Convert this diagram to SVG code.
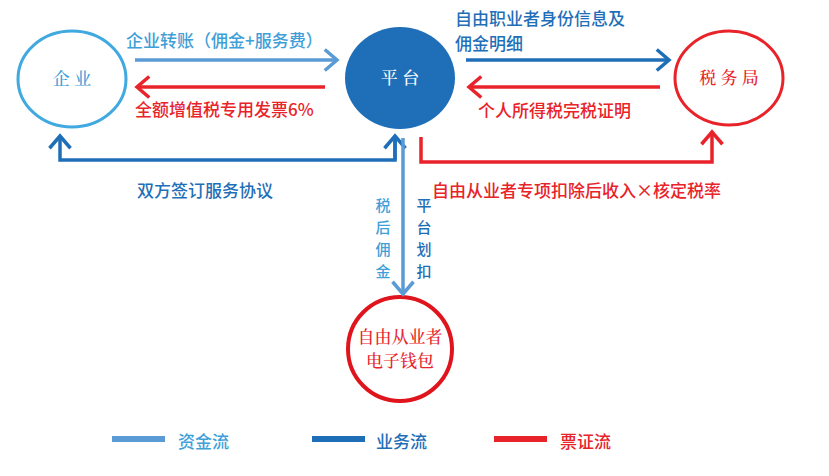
<svg xmlns="http://www.w3.org/2000/svg" width="829" height="476" viewBox="0 0 829 476">
<defs>
<style>
text{font-family:"Noto Sans CJK SC","Noto Sans",sans-serif;font-size:17px;font-weight:500}
.v{font-size:15px}
.lb{stroke:#5b9bd5;fill:none;stroke-width:3.5}
.db{stroke:#1f6fb8;fill:none;stroke-width:3.5}
.rd{stroke:#e8232a;fill:none;stroke-width:3.5}
.tlb{fill:#3fa0d8}.tdb{fill:#1f6fb8}.trd{fill:#e8232a}
.serif{font-family:"Noto Serif CJK SC","Noto Sans CJK SC",serif}
</style>
<marker id="alb" markerWidth="5" markerHeight="7" refX="4" refY="3.5" orient="auto" markerUnits="strokeWidth"><path d="M0.5,0.5 L4,3.5 L0.5,6.5" fill="none" stroke="#5b9bd5" stroke-width="1"/></marker>
<marker id="adb" markerWidth="5" markerHeight="7" refX="4" refY="3.5" orient="auto" markerUnits="strokeWidth"><path d="M0.5,0.5 L4,3.5 L0.5,6.5" fill="none" stroke="#1f6fb8" stroke-width="1"/></marker>
<marker id="ard" markerWidth="5" markerHeight="7" refX="4" refY="3.5" orient="auto" markerUnits="strokeWidth"><path d="M0.5,0.5 L4,3.5 L0.5,6.5" fill="none" stroke="#e8232a" stroke-width="1"/></marker>
</defs>
<rect width="829" height="476" fill="#fff"/>
<g id="qiye"><ellipse cx="72" cy="79" rx="54" ry="48" fill="none" stroke="#3fa9e0" stroke-width="3"/><text x="72" y="85" text-anchor="middle" class="tlb serif" font-size="16">企 业</text></g>
<g id="pingtai"><ellipse cx="400" cy="78" rx="55" ry="51" fill="#1f6fb8"/><text x="400" y="84" text-anchor="middle" fill="#fff" class="serif" font-size="16">平 台</text></g>
<g id="shuiwuju"><ellipse cx="729" cy="78" rx="54" ry="47" fill="none" stroke="#e8232a" stroke-width="3"/><text x="729" y="84" text-anchor="middle" class="trd serif" font-size="17">税 务 局</text></g>
<g id="wallet"><ellipse cx="400" cy="349" rx="52" ry="52" fill="none" stroke="#e0141c" stroke-width="4"/><text x="400" y="343" text-anchor="middle" class="trd serif" font-size="17" font-weight="700">自由从业者</text><text x="400" y="367" text-anchor="middle" class="trd serif" font-size="17" font-weight="700">电子钱包</text></g>
<g id="connectors">
<path class="lb" d="M135,60 H337" marker-end="url(#alb)"/>
<path class="rd" d="M325,87 H137" marker-end="url(#ard)"/>
<path class="db" d="M466,60 H669" marker-end="url(#adb)"/>
<path class="rd" d="M660,87 H469" marker-end="url(#ard)"/>
<path class="db" d="M395,136 V160 H60 V136" marker-end="url(#adb)"/>
<path class="db" d="M395,160 V136" marker-end="url(#adb)"/>
<path class="rd" d="M421,137 V162 H712 V132" marker-end="url(#ard)"/>
<path class="lb" d="M403,138 V294" marker-end="url(#alb)"/>
</g>
<g id="labels">
<text x="126" y="47" class="tlb">企业转账（佣金+服务费）</text>
<text x="135" y="116" class="trd">全额增值税专用发票6%</text>
<text x="455" y="25" class="tdb">自由职业者身份信息及</text>
<text x="455" y="50" class="tdb">佣金明细</text>
<text x="478" y="117" class="trd">个人所得税完税证明</text>
<text x="137" y="197" class="tdb">双方签订服务协议</text>
<text x="432" y="197" class="trd">自由从业者专项扣除后收入×核定税率</text>
<text x="383" y="211" text-anchor="middle" class="tlb v">税</text>
<text x="383" y="233" text-anchor="middle" class="tlb v">后</text>
<text x="383" y="255" text-anchor="middle" class="tlb v">佣</text>
<text x="383" y="277" text-anchor="middle" class="tlb v">金</text>
<text x="424" y="211" text-anchor="middle" class="tdb v">平</text>
<text x="424" y="233" text-anchor="middle" class="tdb v">台</text>
<text x="424" y="255" text-anchor="middle" class="tdb v">划</text>
<text x="424" y="277" text-anchor="middle" class="tdb v">扣</text>
</g>
<g id="legend">
<path d="M112,439 H165" stroke="#5b9bd5" stroke-width="6"/>
<path d="M312,439 H365" stroke="#1f6fb8" stroke-width="6"/>
<path d="M494,439 H547" stroke="#e8232a" stroke-width="6"/>
<text x="178" y="448" class="tlb" font-size="21">资金流</text>
<text x="376" y="448" class="tdb" font-size="21">业务流</text>
<text x="560" y="448" class="trd" font-size="21">票证流</text>
</g>
</svg>
